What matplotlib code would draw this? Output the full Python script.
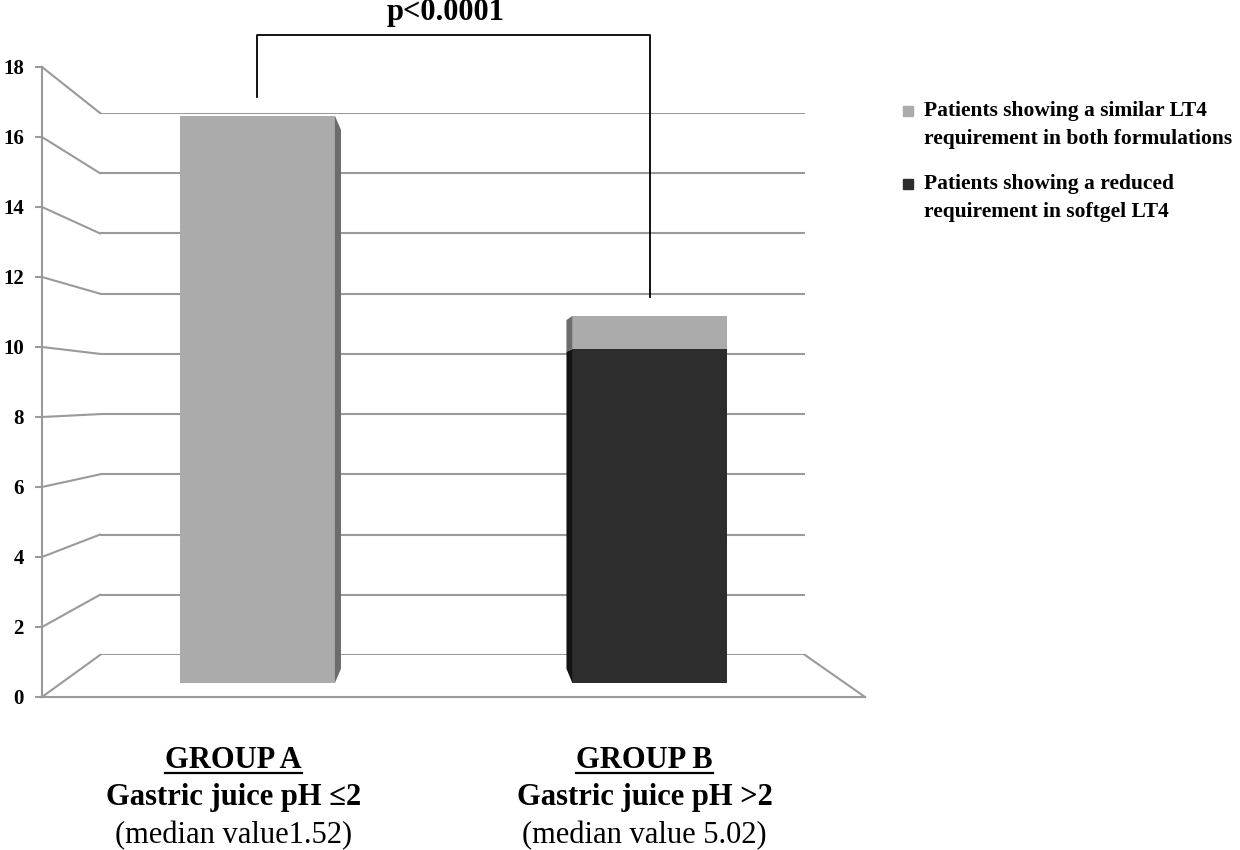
import matplotlib.pyplot as plt
from matplotlib.patches import Polygon

# data
groups = ["GROUP A", "GROUP B"]
group_ph = ["Gastric juice pH \u22642", "Gastric juice pH >2"]
group_median = ["(median value1.52)", "(median value 5.02)"]
similar = [17, 1]      # similar LT4 requirement in both formulations
reduced = [0, 10]      # reduced requirement in softgel LT4
series_labels = [
    ["Patients showing a similar LT4", "requirement in both formulations"],
    ["Patients showing a reduced", "requirement in softgel LT4"],
]
y_ticks = list(range(0, 19, 2))
p_text = "p<0.0001"

light = "#ababab"
dark = "#2d2d2d"
light_side = "#6c6c6c"
dark_side = "#141414"
grid_col = "#9a9a9a"
serif = ["Liberation Serif", "DejaVu Serif"]

W, H = 1240, 850
fig = plt.figure(figsize=(W / 100, H / 100), dpi=100)


def box_axes(x0, y0, x1, y1, z):
    # pixel box measured from the top-left corner
    a = fig.add_axes([x0 / W, 1 - y1 / H, (x1 - x0) / W, (y1 - y0) / H], zorder=z)
    a.patch.set_visible(False)
    return a


# back wall, front (axis) plane, bar plane, overlay in pixel units
axk = box_axes(100, 113, 805, 655, 1)
axf = box_axes(42, 67, 865, 697, 2)
axb = box_axes(61.3, 82.4, 845.9, 683, 3)
ov = box_axes(0, 0, W, H, 4)
ov.set_xlim(0, W)
ov.set_ylim(H, 0)
ov.axis("off")
vanish = (456, 397)

for a in (axk, axf, axb):
    a.set_ylim(0, 18)
    a.set_xlim(0, 1)
axb.set_xlim(0, 2)

# back wall grid
axk.axis("off")
for v in y_ticks:
    axk.axhline(v, color=grid_col, lw=1.5)

# front axis
for s in ("top", "right"):
    axf.spines[s].set_visible(False)
for s in ("left", "bottom"):
    axf.spines[s].set_color(grid_col)
    axf.spines[s].set_linewidth(1.5)
axf.set_xticks([])
axf.set_yticks(y_ticks)
axf.tick_params(axis="y", length=5, width=1.5, color=grid_col, pad=8)
axf.set_yticklabels([str(v) for v in y_ticks], fontfamily=serif,
                    fontweight="bold", fontsize=15)


def to_ov(a, xy):
    return ov.transData.inverted().transform(a.transData.transform(xy))


# side wall / floor connectors
for v in y_ticks:
    p0 = to_ov(axf, (0, v))
    p1 = to_ov(axk, (0, v))
    ov.plot([p0[0], p1[0]], [p0[1], p1[1]], color=grid_col, lw=1.5)
p0 = to_ov(axf, (1, 0))
p1 = to_ov(axk, (1, 0))
ov.plot([p0[0], p1[0]], [p0[1], p1[1]], color=grid_col, lw=1.5)

# bars
xpos = [0.5, 1.5]
axb.axis("off")
b1 = axb.bar(xpos, reduced, width=0.395, color=dark)
b2 = axb.bar(xpos, similar, bottom=reduced, width=0.395, color=light)

t = 0.05
for bars, side_col in ((b1, dark_side), (b2, light_side)):
    for r in bars:
        if r.get_height() <= 0:
            continue
        x0, y0 = r.get_x(), r.get_y()
        x1, y1 = x0 + r.get_width(), y0 + r.get_height()
        cx = to_ov(axb, ((x0 + x1) / 2, y0))[0]
        xe = x1 if cx < vanish[0] else x0
        top = to_ov(axb, (xe, y1))
        bot = to_ov(axb, (xe, y0))
        pts = [top, bot]
        for p in (bot, top):
            pts.append((p[0] + (vanish[0] - p[0]) * t, p[1] + (vanish[1] - p[1]) * t))
        ov.add_patch(Polygon(pts, closed=True, facecolor=side_col, edgecolor="none"))

# significance bracket
totals = [s + r for s, r in zip(similar, reduced)]
y_top = max(totals) + 2.42
axb.plot([xpos[0], xpos[0], xpos[1], xpos[1]],
         [totals[0] + 0.57, y_top, y_top, totals[1] + 0.57],
         color="black", lw=1.3, clip_on=False)
axb.text((xpos[0] + xpos[1]) / 2 - 0.02, y_top + 0.45, p_text, ha="center",
         va="baseline", fontfamily=serif, fontweight="bold", fontsize=22)

# category labels (shifted a little left of the bar centres, as in the original)
label_shift = [-24, -5]
under = []
for i, x in enumerate(xpos):
    px = to_ov(axb, (x, 0))[0] + label_shift[i]
    under.append(ov.text(px, 768, groups[i], ha="center", va="baseline",
                         fontfamily=serif, fontweight="bold", fontsize=22))
    ov.text(px, 805, group_ph[i], ha="center", va="baseline",
            fontfamily=serif, fontweight="bold", fontsize=22)
    ov.text(px, 843, group_median[i], ha="center", va="baseline",
            fontfamily=serif, fontsize=22)

fig.canvas.draw()
rend = fig.canvas.get_renderer()
for txt in under:
    bb = txt.get_window_extent(rend)
    xa = ov.transData.inverted().transform((bb.x0, bb.y0))
    xb = ov.transData.inverted().transform((bb.x1, bb.y0))
    ov.plot([xa[0], xb[0]], [773, 773], color="black", lw=1.6)

# legend
for (l1, l2), col, y in zip(series_labels, [light, dark], [111, 184]):
    ov.plot([908], [y], marker="s", ms=7, color=col, ls="none")
    ov.text(924, y, l1, va="center", fontfamily=serif, fontweight="bold", fontsize=15.5)
    ov.text(924, y + 28, l2, va="center", fontfamily=serif, fontweight="bold", fontsize=15.5)

fig.savefig("out.png", dpi=100)
